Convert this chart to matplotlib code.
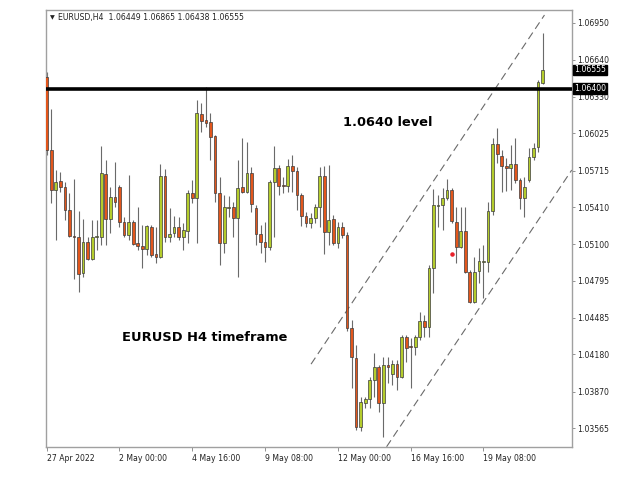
"""
EURUSD H4 candlestick chart, 27 Apr - 23 May 2022, with the 1.0640
resistance level and the rising channel drawn over it.
"""
import numpy as np
import matplotlib.pyplot as plt
from matplotlib.transforms import blended_transform_factory

# OHLC per H4 bar (bar index 0 = 27 Apr 2022 08:00)
opens = [
    1.06497, 1.05887, 1.05553, 1.05628, 1.05578, 1.05386, 1.05169, 1.05161, 1.04860, 1.05119,
    1.04977, 1.05161, 1.05161, 1.05687, 1.05311, 1.05495, 1.05578, 1.05286, 1.05177, 1.05286,
    1.05110, 1.05085, 1.05060, 1.05244, 1.05019, 1.04994, 1.05670, 1.05161, 1.05194, 1.05244,
    1.05161, 1.05211, 1.05528, 1.05486, 1.06188, 1.06138, 1.06121, 1.06004, 1.05528, 1.05110,
    1.05403, 1.05411, 1.05319, 1.05578, 1.05536, 1.05695, 1.05403, 1.05185, 1.05119, 1.05077,
    1.05620, 1.05737, 1.05595, 1.05587, 1.05754, 1.05712, 1.05511, 1.05336, 1.05277, 1.05319,
    1.05411, 1.05670, 1.05202, 1.05311, 1.05110, 1.05244, 1.05177, 1.04401, 1.04150, 1.03574,
    1.03774, 1.03808, 1.03966, 1.04075, 1.03774, 1.04091, 1.04016, 1.04100, 1.03991, 1.04325,
    1.04250, 1.04242, 1.04325, 1.04459, 1.04409, 1.04902, 1.05420, 1.05428, 1.05486, 1.05553,
    1.05286, 1.05077, 1.05211, 1.04868, 1.04618, 1.04877, 1.04952, 1.04952, 1.05378, 1.05937,
    1.05837, 1.05754, 1.05737, 1.05770, 1.05637, 1.05486, 1.05637, 1.05829, 1.05912, 1.06449,
]
highs = [
    1.06541, 1.06230, 1.05720, 1.05704, 1.05620, 1.05528, 1.05645, 1.05378, 1.05311, 1.05161,
    1.05303, 1.05303, 1.05921, 1.05804, 1.05578, 1.05787, 1.05595, 1.05328, 1.05678, 1.05303,
    1.05411, 1.05261, 1.05261, 1.05261, 1.05244, 1.05770, 1.05729, 1.05403, 1.05336, 1.05328,
    1.05277, 1.05553, 1.05637, 1.06305, 1.06280, 1.06413, 1.06196, 1.06012, 1.05662, 1.05511,
    1.05503, 1.05453, 1.05804, 1.05987, 1.05954, 1.05745, 1.05428, 1.05261, 1.05286, 1.05637,
    1.05921, 1.05762, 1.05662, 1.05812, 1.05845, 1.05745, 1.05528, 1.05369, 1.05361, 1.05436,
    1.05745, 1.05754, 1.05762, 1.05344, 1.05286, 1.05286, 1.05202, 1.04467, 1.04259, 1.03824,
    1.03824, 1.03991, 1.04192, 1.04091, 1.04158, 1.04158, 1.04133, 1.04133, 1.04342, 1.04342,
    1.04317, 1.04342, 1.04534, 1.04509, 1.04927, 1.05561, 1.05511, 1.05570, 1.05645, 1.05570,
    1.05411, 1.05411, 1.05411, 1.04885, 1.04994, 1.05069, 1.05094, 1.05453, 1.05987, 1.06071,
    1.05887, 1.05820, 1.05929, 1.05987, 1.05653, 1.05662, 1.05904, 1.05946, 1.06472, 1.06865,
]
lows = [
    1.05845, 1.05445, 1.05135, 1.05536, 1.05303, 1.05161, 1.04810, 1.04701, 1.04826, 1.04969,
    1.04969, 1.05052, 1.05094, 1.05094, 1.05194, 1.05411, 1.05244, 1.05161, 1.05135, 1.05094,
    1.05052, 1.04902, 1.05010, 1.04994, 1.04944, 1.04985, 1.05119, 1.05119, 1.05161, 1.05135,
    1.05052, 1.05110, 1.05445, 1.05110, 1.06038, 1.06079, 1.05804, 1.05453, 1.04927, 1.05027,
    1.05328, 1.05161, 1.04826, 1.05528, 1.05528, 1.05369, 1.05094, 1.05027, 1.04952, 1.05052,
    1.05161, 1.05511, 1.05528, 1.05536, 1.05536, 1.05386, 1.05252, 1.05244, 1.05235, 1.05277,
    1.05244, 1.05019, 1.05094, 1.05094, 1.05069, 1.05152, 1.04375, 1.03899, 1.03549, 1.03540,
    1.03732, 1.03732, 1.03824, 1.03699, 1.03490, 1.03941, 1.03924, 1.03883, 1.03983, 1.04116,
    1.03899, 1.04175, 1.04300, 1.04325, 1.04325, 1.04693, 1.05244, 1.05219, 1.05470, 1.05277,
    1.04944, 1.05069, 1.04860, 1.04609, 1.04609, 1.04776, 1.04651, 1.04868, 1.05344, 1.05779,
    1.05536, 1.05545, 1.05553, 1.05612, 1.05394, 1.05328, 1.05620, 1.05804, 1.05870, 1.06438,
]
closes = [
    1.05887, 1.05553, 1.05620, 1.05578, 1.05386, 1.05169, 1.05161, 1.04852, 1.05119, 1.04977,
    1.05161, 1.05169, 1.05695, 1.05311, 1.05495, 1.05453, 1.05286, 1.05177, 1.05286, 1.05102,
    1.05085, 1.05060, 1.05252, 1.05010, 1.04994, 1.05670, 1.05161, 1.05185, 1.05244, 1.05161,
    1.05219, 1.05528, 1.05486, 1.06196, 1.06130, 1.06113, 1.05996, 1.05528, 1.05110, 1.05411,
    1.05411, 1.05319, 1.05570, 1.05536, 1.05695, 1.05436, 1.05185, 1.05119, 1.05077, 1.05620,
    1.05737, 1.05587, 1.05587, 1.05754, 1.05712, 1.05511, 1.05336, 1.05277, 1.05319, 1.05411,
    1.05670, 1.05202, 1.05303, 1.05110, 1.05244, 1.05177, 1.04401, 1.04158, 1.03574, 1.03782,
    1.03808, 1.03966, 1.04075, 1.03774, 1.04091, 1.04075, 1.04100, 1.03991, 1.04325, 1.04233,
    1.04242, 1.04325, 1.04459, 1.04409, 1.04902, 1.05428, 1.05428, 1.05486, 1.05553, 1.05294,
    1.05077, 1.05211, 1.04868, 1.04618, 1.04868, 1.04960, 1.04960, 1.05378, 1.05937, 1.05854,
    1.05754, 1.05737, 1.05770, 1.05637, 1.05486, 1.05578, 1.05829, 1.05904, 1.06455, 1.06555,
]

# time axis labels (every 16 bars)
date_tick_bars = [0, 16, 32, 48, 64, 80, 96]
date_tick_labels = ["27 Apr 2022", "2 May 00:00", "4 May 16:00", "9 May 08:00",
                    "12 May 00:00", "16 May 16:00", "19 May 08:00"]

price_ticks = [1.06950, 1.06640, 1.06330, 1.06025, 1.05715, 1.05410,
               1.05100, 1.04795, 1.04485, 1.04180, 1.03870, 1.03565]

level_price = 1.06400
last_price = closes[-1]

# rising channel, anchored as (bar, price) pairs
channel_top_bars = [58.1, 109.4]
channel_top_prices = [1.04099, 1.07014]
channel_bottom_bars = [74.7, 115.4]
channel_bottom_prices = [1.03409, 1.05720]

# signal marker
signal_bars = [89.1]
signal_prices = [1.05019]

BULL = "#b4cc2c"
BEAR = "#e2561c"
FRAME = "#a0a0a0"

fig = plt.figure(figsize=(6.4, 4.8), dpi=100)
ax = fig.add_axes([46 / 640, 33 / 480, 526 / 640, 437 / 480])

o = np.array(opens)
h = np.array(highs)
l = np.array(lows)
c = np.array(closes)
x = np.arange(len(o))
up = c >= o

ax.vlines(x, l, h, color="#6a6a6a", lw=0.8, zorder=2)
body_bottom = np.minimum(o, c)
body_height = np.maximum(np.abs(c - o), 0.00004)
ax.bar(x, body_height, bottom=body_bottom, width=0.6,
       color=np.where(up, BULL, BEAR), edgecolor="#3c3c3c", linewidth=0.5, zorder=3)

# channel and key level
ax.plot(channel_top_bars, channel_top_prices, color="#6a6a6a", lw=0.8,
        dashes=(7, 4), zorder=1)
ax.plot(channel_bottom_bars, channel_bottom_prices, color="#6a6a6a", lw=0.8,
        dashes=(7, 4), zorder=1)
ax.axhline(level_price, color="black", lw=2.6, zorder=4)
ax.scatter(signal_bars, signal_prices, s=5, color="#e8202a", zorder=4)

ax.set_xlim(-0.15, 115.45)
ax.set_ylim(1.03407, 1.07056)

ax.set_xticks(date_tick_bars)
ax.set_xticklabels(date_tick_labels)
for lbl in ax.get_xticklabels():
    lbl.set_ha("left")
ax.set_yticks(price_ticks)
ax.set_yticklabels([f"{p:.5f}" for p in price_ticks])
ax.yaxis.tick_right()
ax.tick_params(axis="y", length=2, width=0.6, color="#808080", labelsize=5.6,
               pad=2, labelcolor="#222222")
ax.tick_params(axis="x", length=3, width=0.6, color="#808080", labelsize=5.6,
               pad=2, labelcolor="#222222")

for sp in ax.spines.values():
    sp.set_color(FRAME)
    sp.set_linewidth(1.0)

# price boxes on the right scale
tr = blended_transform_factory(ax.transAxes, ax.transData)
for p in (last_price, level_price):
    ax.text(1.004, p, f"{p:.5f}", transform=tr, ha="left", va="center",
            fontsize=5.6, color="white", clip_on=False, zorder=6,
            bbox=dict(boxstyle="square,pad=0.12", fc="black", ec="black"))

# header line
ax.text(0.008, 0.983, "▼", transform=ax.transAxes, ha="left", va="center",
        fontsize=4.5, color="#222222")
ax.text(0.022, 0.983, "EURUSD,H4  1.06449 1.06865 1.06438 1.06555",
        transform=ax.transAxes, ha="left", va="center", fontsize=5.6, color="#222222")

# annotations
ax.text(75, 1.0612, "1.0640 level", ha="center", va="center",
        fontsize=9.4, fontweight="bold", color="black")
ax.text(16.5, 1.0432, "EURUSD H4 timeframe", ha="left", va="center",
        fontsize=9.4, fontweight="bold", color="black")

fig.savefig("out.png", dpi=100)
